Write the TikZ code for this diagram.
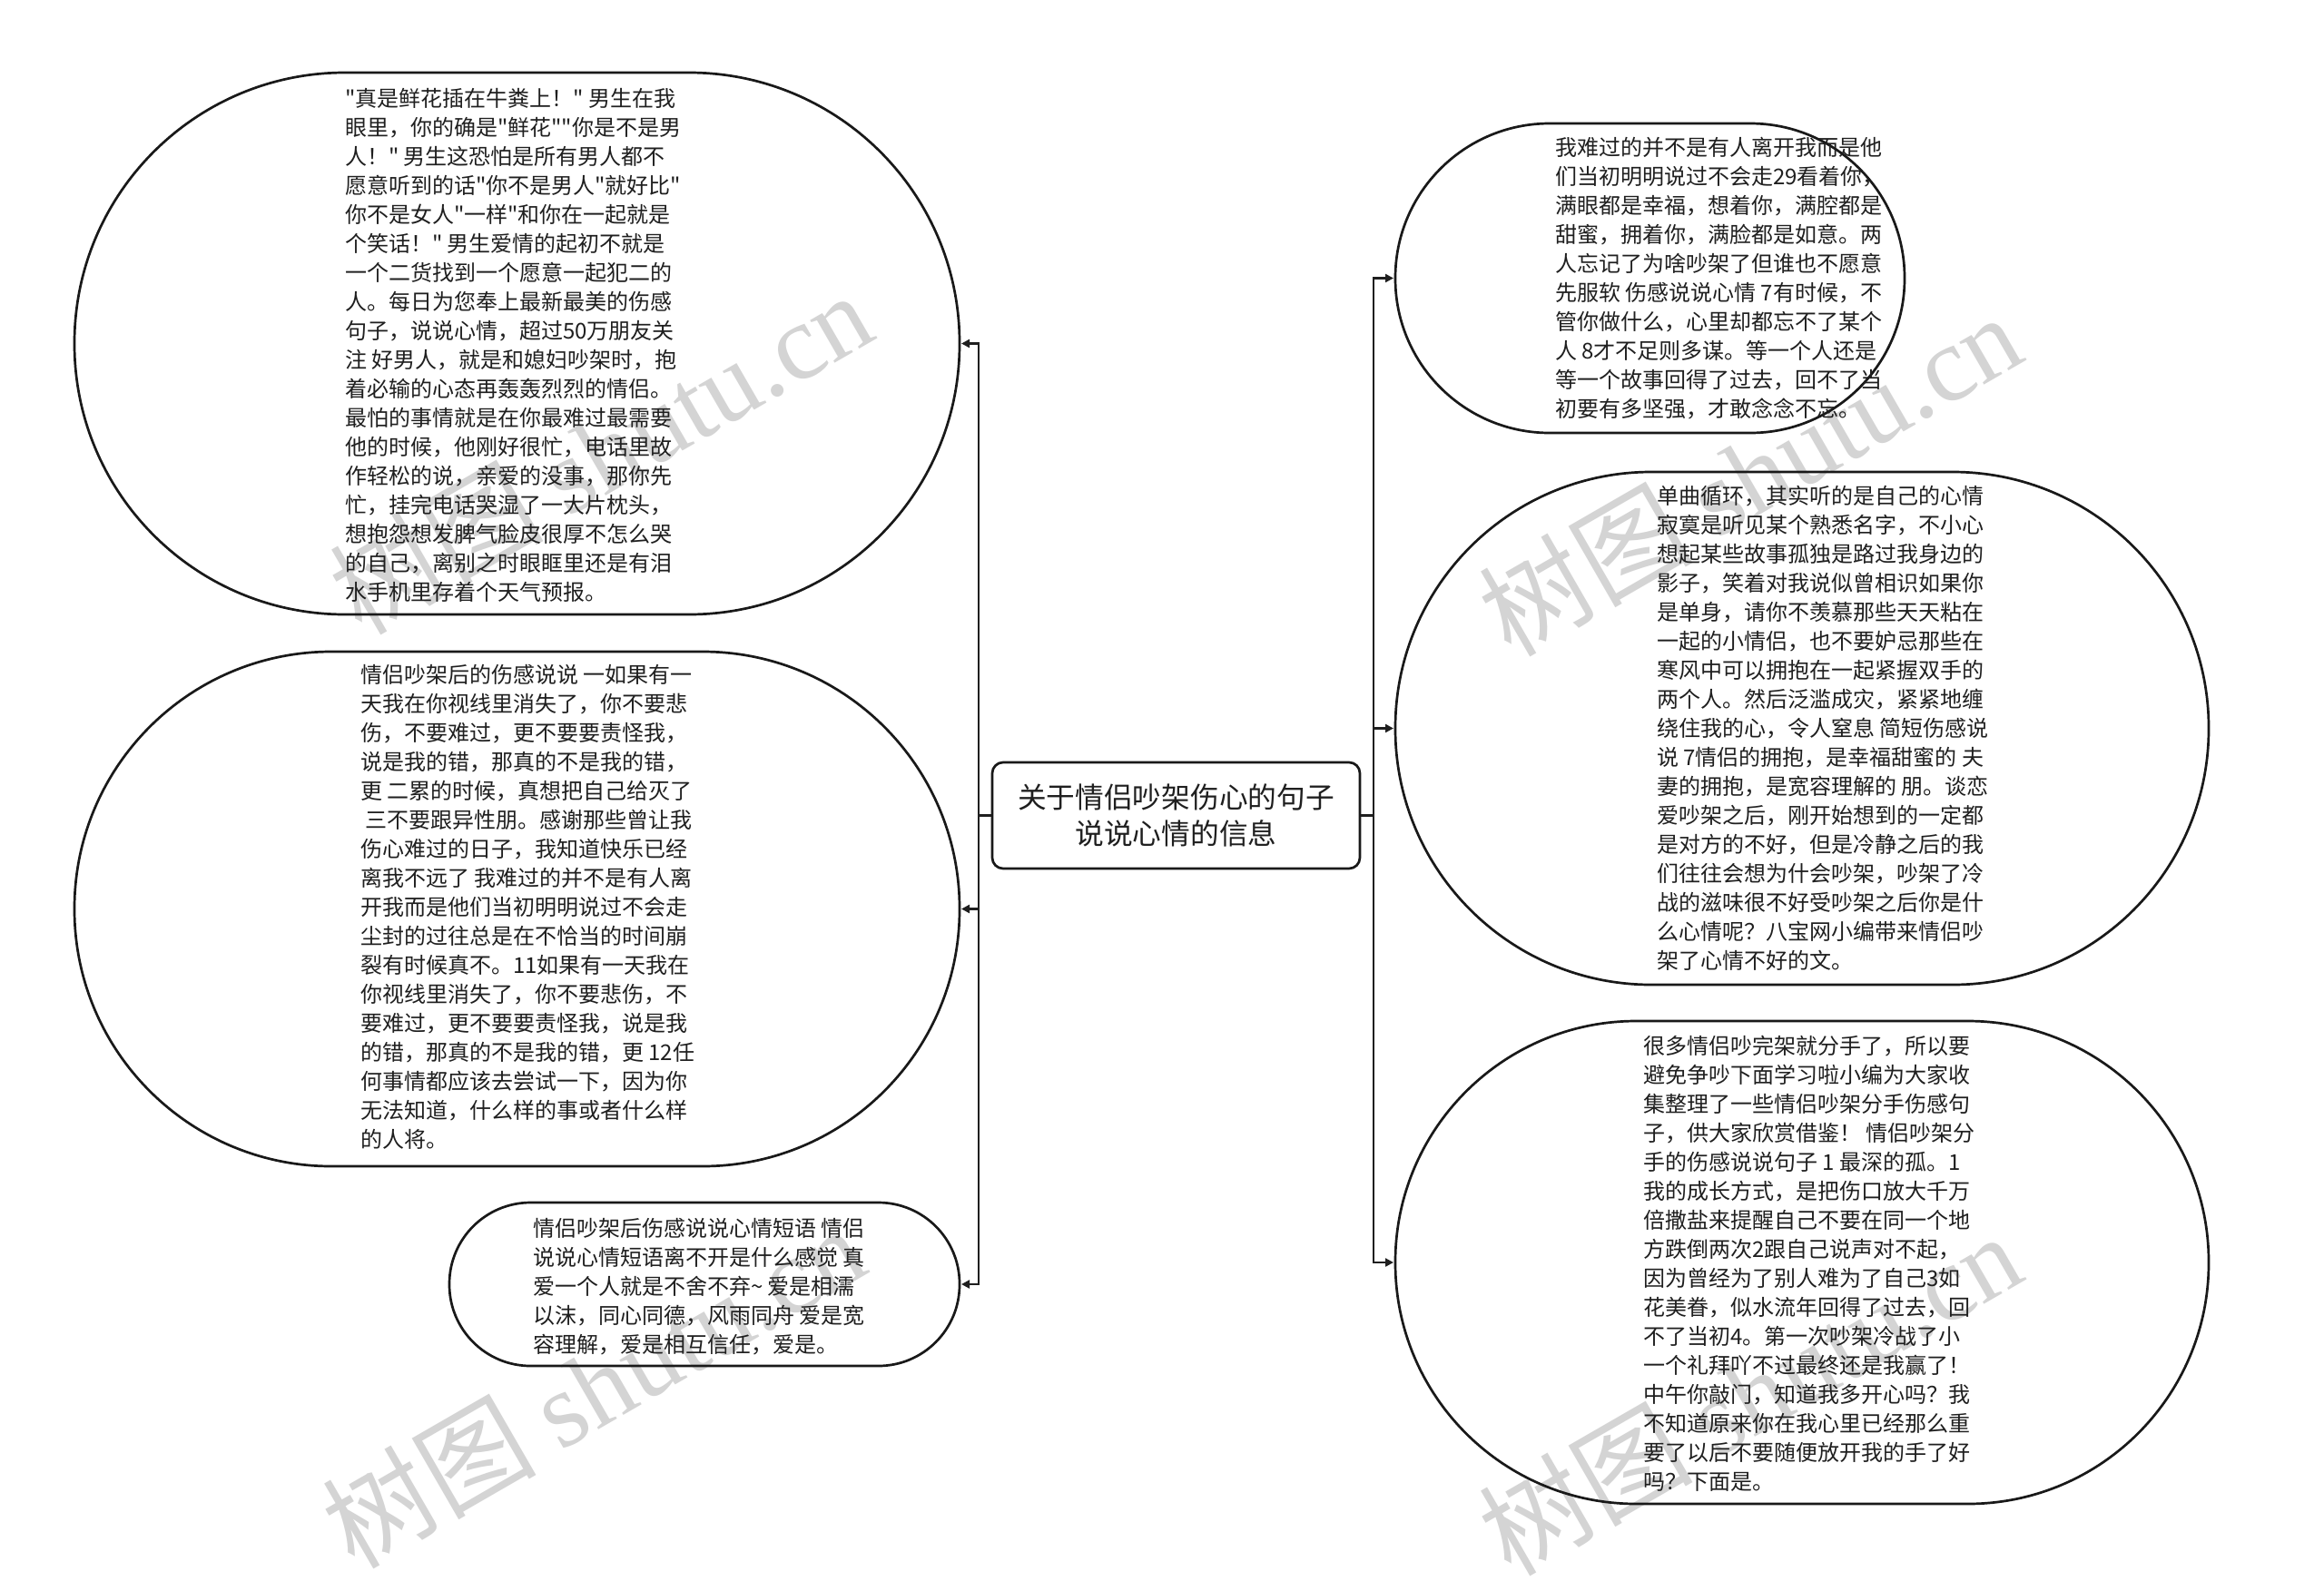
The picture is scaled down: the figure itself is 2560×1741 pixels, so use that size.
\documentclass[tikz,border=0pt]{standalone}
\usepackage{fontspec}
\setmainfont{Noto Sans CJK SC}
\newfontfamily\cjk{Noto Sans CJK SC}
\newfontfamily\wmlatin{Liberation Serif}
\newfontfamily\wmcjk{Noto Sans CJK SC}
\usetikzlibrary{arrows.meta}
\begin{document}
\begin{tikzpicture}[x=1pt,y=-1pt,
  bubble/.style={draw=black!90, line width=2.7pt, rectangle, inner sep=0pt, outer sep=2pt},
  body/.style={align=left, font=\cjk\fontsize{24}{32}\selectfont, text=black!88, inner sep=0pt, anchor=west},
  conn/.style={draw=black!88, line width=2.7pt, -{Triangle[length=9pt,width=9pt]}},
  plainconn/.style={draw=black!88, line width=2.7pt},
  wm/.style={text=black!17, rotate=30, inner sep=0pt, font=\fontsize{118}{118}\selectfont}
]
\useasboundingbox[fill=white] (0,0) rectangle (2560,1741);

% watermarks
\node[wm] (wm1) at (661,498) {\wmcjk 树图 \wmlatin shutu.cn};
\node[wm] (wm2) at (1927,522) {\wmcjk 树图 \wmlatin shutu.cn};
\node[wm] (wm3) at (653,1527) {\wmcjk 树图 \wmlatin shutu.cn};
\node[wm] (wm4) at (1927,1535) {\wmcjk 树图 \wmlatin shutu.cn};

% central topic
\node[draw=black!90, line width=2.7pt, rounded corners=12pt, minimum width=405pt, minimum height=117pt,
      align=center, inner sep=0pt, text=black!88, font=\cjk\fontsize{31.7}{40}\selectfont] (c) at (1295.5,898.5)
  {关于情侣吵架伤心的句子\\说说心情的信息};

% bubbles
\node[bubble, minimum width=975pt, minimum height=597pt, rounded corners=298pt] (l1) at (569.5,378.5) {};
\node[bubble, minimum width=975pt, minimum height=567pt, rounded corners=283pt] (l2) at (569.5,1001.5) {};
\node[bubble, minimum width=562pt, minimum height=180pt, rounded corners=89.5pt] (l3) at (776,1415) {};
\node[bubble, minimum width=561pt, minimum height=341pt, rounded corners=170pt] (r1) at (1817.5,306.5) {};
\node[bubble, minimum width=896pt, minimum height=565pt, rounded corners=282pt] (r2) at (1985,802.5) {};
\node[bubble, minimum width=896pt, minimum height=532pt, rounded corners=265.5pt] (r3) at (1985,1391) {};

% texts
\node[body] (t1) at (380,380.5) {"真是鲜花插在牛粪上！" 男生在我\\
眼里，你的确是"鲜花""你是不是男\\
人！" 男生这恐怕是所有男人都不\\
愿意听到的话"你不是男人"就好比"\\
你不是女人"一样"和你在一起就是\\
个笑话！" 男生爱情的起初不就是\\
一个二货找到一个愿意一起犯二的\\
人。每日为您奉上最新最美的伤感\\
句子，说说心情，超过50万朋友关\\
注 好男人，就是和媳妇吵架时，抱\\
着必输的心态再轰轰烈烈的情侣。\\
最怕的事情就是在你最难过最需要\\
他的时候，他刚好很忙，电话里故\\
作轻松的说，亲爱的没事，那你先\\
忙，挂完电话哭湿了一大片枕头，\\
想抱怨想发脾气脸皮很厚不怎么哭\\
的自己，离别之时眼眶里还是有泪\\
水手机里存着个天气预报。};

\node[body] (t2) at (397,999.5) {情侣吵架后的伤感说说 一如果有一\\
天我在你视线里消失了，你不要悲\\
伤，不要难过，更不要要责怪我，\\
说是我的错，那真的不是我的错，\\
更 二累的时候，真想把自己给灭了\\
\ 三不要跟异性朋。感谢那些曾让我\\
伤心难过的日子，我知道快乐已经\\
离我不远了 我难过的并不是有人离\\
开我而是他们当初明明说过不会走\\
尘封的过往总是在不恰当的时间崩\\
裂有时候真不。11如果有一天我在\\
你视线里消失了，你不要悲伤，不\\
要难过，更不要要责怪我，说是我\\
的错，那真的不是我的错，更 12任\\
何事情都应该去尝试一下，因为你\\
无法知道，什么样的事或者什么样\\
的人将。};

\node[body] (t3) at (587,1418) {情侣吵架后伤感说说心情短语 情侣\\
说说心情短语离不开是什么感觉 真\\
爱一个人就是不舍不弃\textasciitilde{} 爱是相濡\\
以沫，同心同德，风雨同舟 爱是宽\\
容理解，爱是相互信任，爱是。};

\node[body] (t4) at (1713,306.5) {我难过的并不是有人离开我而是他\\
们当初明明说过不会走29看着你，\\
满眼都是幸福，想着你，满腔都是\\
甜蜜，拥着你，满脸都是如意。两\\
人忘记了为啥吵架了但谁也不愿意\\
先服软 伤感说说心情 7有时候，不\\
管你做什么，心里却都忘不了某个\\
人 8才不足则多谋。等一个人还是\\
等一个故事回得了过去，回不了当\\
初要有多坚强，才敢念念不忘。};

\node[body] (t5) at (1825,802.5) {单曲循环，其实听的是自己的心情\\
寂寞是听见某个熟悉名字，不小心\\
想起某些故事孤独是路过我身边的\\
影子，笑着对我说似曾相识如果你\\
是单身，请你不羡慕那些天天粘在\\
一起的小情侣，也不要妒忌那些在\\
寒风中可以拥抱在一起紧握双手的\\
两个人。然后泛滥成灾，紧紧地缠\\
绕住我的心，令人窒息 简短伤感说\\
说 7情侣的拥抱，是幸福甜蜜的 夫\\
妻的拥抱，是宽容理解的 朋。谈恋\\
爱吵架之后，刚开始想到的一定都\\
是对方的不好，但是冷静之后的我\\
们往往会想为什会吵架，吵架了冷\\
战的滋味很不好受吵架之后你是什\\
么心情呢？八宝网小编带来情侣吵\\
架了心情不好的文。};

\node[body] (t6) at (1810,1392) {很多情侣吵完架就分手了，所以要\\
避免争吵下面学习啦小编为大家收\\
集整理了一些情侣吵架分手伤感句\\
子，供大家欣赏借鉴！ 情侣吵架分\\
手的伤感说说句子 1 最深的孤。1\\
我的成长方式，是把伤口放大千万\\
倍撒盐来提醒自己不要在同一个地\\
方跌倒两次2跟自己说声对不起，\\
因为曾经为了别人难为了自己3如\\
花美眷，似水流年回得了过去，回\\
不了当初4。第一次吵架冷战了小\\
一个礼拜吖不过最终还是我赢了！\\
中午你敲门，知道我多开心吗？我\\
不知道原来你在我心里已经那么重\\
要了以后不要随便放开我的手了好\\
吗？下面是。};

% connectors
\coordinate (jl) at (1078,898.5);
\coordinate (jr) at (1513,898.5);
\draw[plainconn] (c.west) -- (jl);
\draw[plainconn] (c.east) -- (jr);
\draw[conn] (jl) |- (l1.east);
\draw[conn] (jl) |- (l2.east);
\draw[conn] (jl) |- (l3.east);
\draw[conn] (jr) |- (r1.west);
\draw[conn] (jr) |- (r2.west);
\draw[conn] (jr) |- (r3.west);
\end{tikzpicture}
\end{document}
